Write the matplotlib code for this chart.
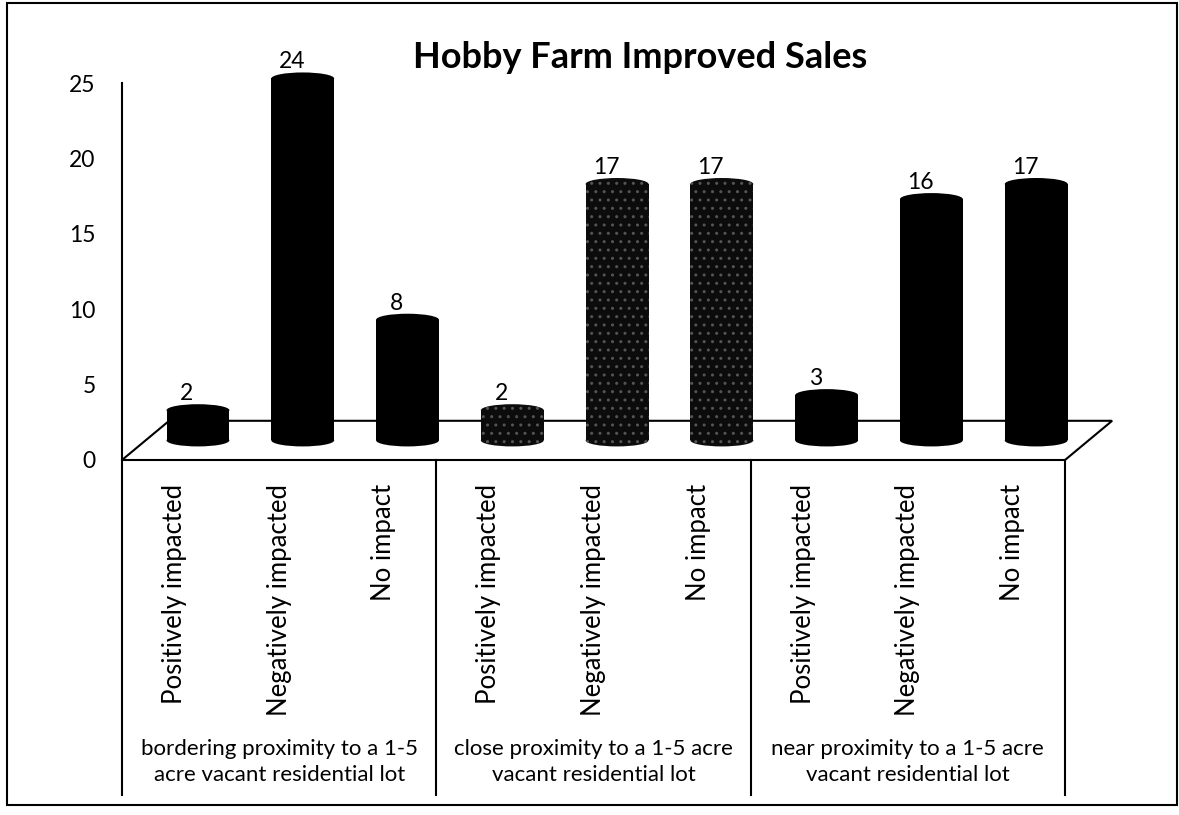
import numpy as np
import matplotlib.pyplot as plt
from matplotlib.patches import Ellipse, Rectangle, Polygon
from matplotlib.transforms import blended_transform_factory

plt.rcParams['font.family'] = ['Lato', 'DejaVu Sans']

# data
groups = ['bordering proximity to a 1-5\nacre vacant residential lot',
          'close proximity to a 1-5 acre\nvacant residential lot',
          'near proximity to a 1-5 acre\nvacant residential lot']
impacts = ['Positively impacted', 'Negatively impacted', 'No impact']
counts = [2, 24, 8, 2, 17, 17, 3, 16, 17]
speckled = [False, True, False]  # the middle group prints with a grainy fill

W, H = 1179, 815
fig = plt.figure(figsize=(W / 100, H / 100), dpi=100)

# front plane of the fake 3-d plot, in pixels
px0, px1, py0, py1 = 122, 1065, 460, 83
ax = fig.add_axes([px0 / W, 1 - py0 / H, (px1 - px0) / W, (py0 - py1) / H])
n = len(counts)
ax.set_xlim(0, n)
ax.set_ylim(0, 25)
ax.set_xticks([])
ax.set_yticks(range(0, 26, 5))
ax.tick_params(axis='y', length=0, pad=19, labelsize=16.5)
for s in ['top', 'right', 'bottom']:
    ax.spines[s].set_visible(False)
ax.spines['left'].set_linewidth(1.5)
ax.patch.set_visible(False)

# depth of the floor (x and y data units)
dx, dy = 0.45, 2.6
floor = Polygon([(0, 0), (n, 0), (n + dx, dy), (dx, dy)], closed=True,
                facecolor='white', edgecolor='black', lw=1.5, clip_on=False, zorder=1)
ax.add_patch(floor)

# cylinders
bw, eh = 0.6, 0.8
base = dy / 2
for k, v in enumerate(counts):
    cx = k + 0.5 + dx / 2
    grainy = speckled[k // 3]
    kw = dict(facecolor='black', clip_on=False, zorder=3, lw=0)
    if grainy:
        kw.update(facecolor='#0c0c0c', hatch='..', edgecolor='#555555')
    ax.add_patch(Ellipse((cx, base), bw, eh, **kw))
    ax.add_patch(Rectangle((cx - bw / 2, base), bw, v, **kw))
    ax.add_patch(Ellipse((cx, base + v), bw, eh, **kw))
    ax.text(k + 0.62, base + v + eh / 2 + 0.27, str(v), ha='center', va='baseline',
            fontsize=16.5, zorder=4, clip_on=False)

# category table under the floor
tr = blended_transform_factory(ax.transData, ax.transAxes)
def yfrac(ypx):
    return (py0 - ypx) / (py0 - py1)

for k in range(n):
    ax.text(k + 0.5, yfrac(484), impacts[k % 3], rotation=90, ha='center', va='top',
            fontsize=18.5, transform=tr)
for g, lab in enumerate(groups):
    ax.text(3 * g + 1.5, yfrac(762), lab, ha='center', va='center', fontsize=16,
            linespacing=1.35, transform=tr)
for xb in range(0, n + 1, 3):
    ax.plot([xb, xb], [0, yfrac(795)], color='black', lw=1.5, transform=tr, clip_on=False)

fig.text(640 / W, 1 - 68 / H, 'Hobby Farm Improved Sales', ha='center', va='baseline',
         fontsize=26, fontweight='bold')

# outer frame of the scanned chart
fig.add_artist(Rectangle((7 / W, 1 - 805 / H), (1177 - 7) / W, (805 - 3) / H,
                         transform=fig.transFigure, fill=False, lw=1.5, edgecolor='black'))

fig.savefig('out.png', dpi=100)
